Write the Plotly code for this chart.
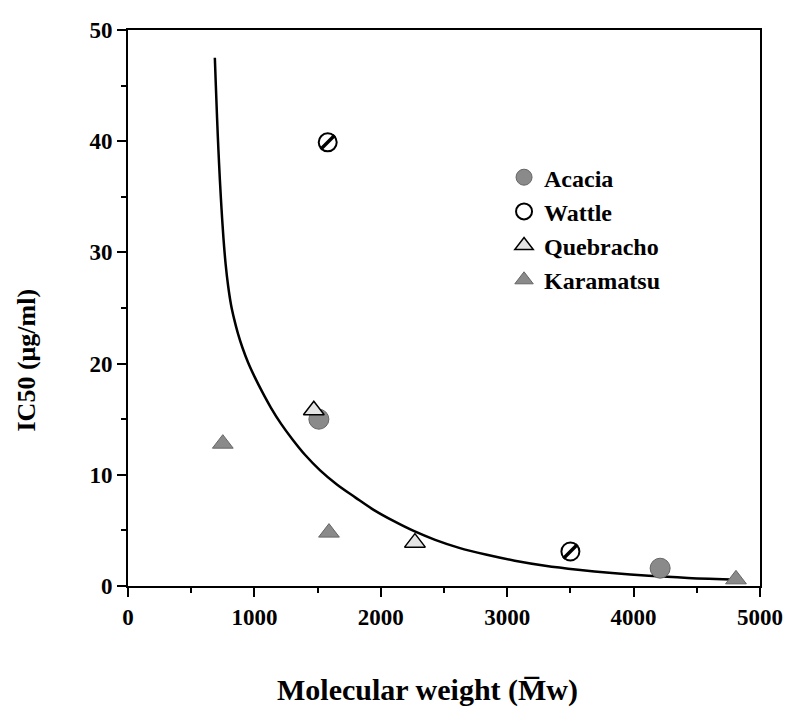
import plotly.graph_objects as go

# ---- data ----
acacia_x = [1510, 4210]
acacia_y = [15.0, 1.6]
wattle_x = [1580, 3500]
wattle_y = [39.9, 3.1]
quebracho_x = [1470, 2270]
quebracho_y = [15.8, 3.9]
karamatsu_x = [750, 1590, 4810]
karamatsu_y = [12.8, 4.8, 0.6]

curve_x = [687, 695, 705, 715, 727, 740, 755, 772, 792, 815, 840, 870, 905, 950,
           1000, 1060, 1130, 1210, 1300, 1400, 1520, 1650, 1800, 1950, 2100, 2260,
           2430, 2620, 2830, 3060, 3300, 3560, 3830, 4120, 4430, 4840]
curve_y = [47.5, 45.0, 42.0, 39.3, 36.5, 33.9, 31.3, 29.0, 27.0, 25.3, 24.0, 22.7,
           21.45, 20.1, 18.85, 17.5, 16.05, 14.6, 13.2, 11.8, 10.4, 9.15, 7.95, 6.8,
           5.85, 4.95, 4.15, 3.43, 2.83, 2.28, 1.83, 1.47, 1.17, 0.92, 0.73, 0.56]

x_ticks = [0, 1000, 2000, 3000, 4000, 5000]
y_ticks = [0, 10, 20, 30, 40, 50]

SERIF = "Liberation Serif"
GRAY = "#8a8a8a"

fig = go.Figure()

fig.add_trace(go.Scatter(x=curve_x, y=curve_y, mode="lines",
                         line=dict(color="black", width=2.5, shape="spline", smoothing=1.0),
                         showlegend=False, hoverinfo="skip"))

fig.add_trace(go.Scatter(x=acacia_x, y=acacia_y, mode="markers", name="Acacia",
                         marker=dict(symbol="circle", size=20, color=GRAY,
                                     line=dict(color="#666666", width=1))))
fig.add_trace(go.Scatter(x=wattle_x, y=wattle_y, mode="markers", name="Wattle",
                         marker=dict(symbol="circle", size=18, color="white",
                                     line=dict(color="black", width=2))))
fig.add_trace(go.Scatter(x=wattle_x, y=wattle_y, mode="markers", showlegend=False,
                         hoverinfo="skip",
                         marker=dict(symbol="line-ne", size=14,
                                     line=dict(color="black", width=3.5))))
fig.add_trace(go.Scatter(x=quebracho_x, y=quebracho_y, mode="markers", name="Quebracho",
                         marker=dict(symbol="triangle-up", size=18, color="#e4e4e4",
                                     line=dict(color="black", width=1.5))))
fig.add_trace(go.Scatter(x=karamatsu_x, y=karamatsu_y, mode="markers", name="Karamatsu",
                         marker=dict(symbol="triangle-up", size=18, color=GRAY,
                                     line=dict(color="#666666", width=1))))

axis_common = dict(showline=True, linecolor="black", linewidth=2, mirror=True,
                   showgrid=False, zeroline=False, ticks="outside", ticklen=9,
                   tickwidth=1.5, tickcolor="black", ticklabeloverflow="allow",
                   tickfont=dict(family=SERIF, size=23, color="black"))

fig.update_xaxes(range=[0, 5000], tickvals=x_ticks,
                 ticktext=[f"<b>{v}</b>" for v in x_ticks],
                 minor=dict(ticks="outside", ticklen=5, tickcolor="black", dtick=500),
                 **axis_common)
fig.update_yaxes(range=[0, 50], tickvals=y_ticks,
                 ticktext=[f"<b>{v}</b>" for v in y_ticks],
                 minor=dict(ticks="outside", ticklen=5, tickcolor="black", dtick=5),
                 **axis_common)

fig.add_annotation(text="<b>Molecular weight (M\u0305w)</b>", xref="paper", yref="paper",
                   x=0.474, y=-0.187, xanchor="center", yanchor="middle",
                   showarrow=False, font=dict(family=SERIF, size=30, color="black"))
fig.add_annotation(text="<b>IC50 (\u03bcg/ml)</b>", xref="paper", yref="paper",
                   x=-0.161, y=0.406, xanchor="center", yanchor="middle", textangle=-90,
                   showarrow=False, font=dict(family=SERIF, size=26, color="black"))

fig.update_layout(
    width=795, height=707,
    margin=dict(l=128, r=20, t=30, b=121),
    plot_bgcolor="white", paper_bgcolor="white",
    legend=dict(x=0.595, y=0.775, xanchor="left", yanchor="top",
                font=dict(family=SERIF, size=24, color="black"),
                tracegroupgap=0,
                bgcolor="rgba(0,0,0,0)", itemwidth=30),
    font=dict(family=SERIF),
)
for tr in fig.data:
    if tr.name:
        tr.name = f"<b>{tr.name}</b>"

fig.write_html("out.html")
